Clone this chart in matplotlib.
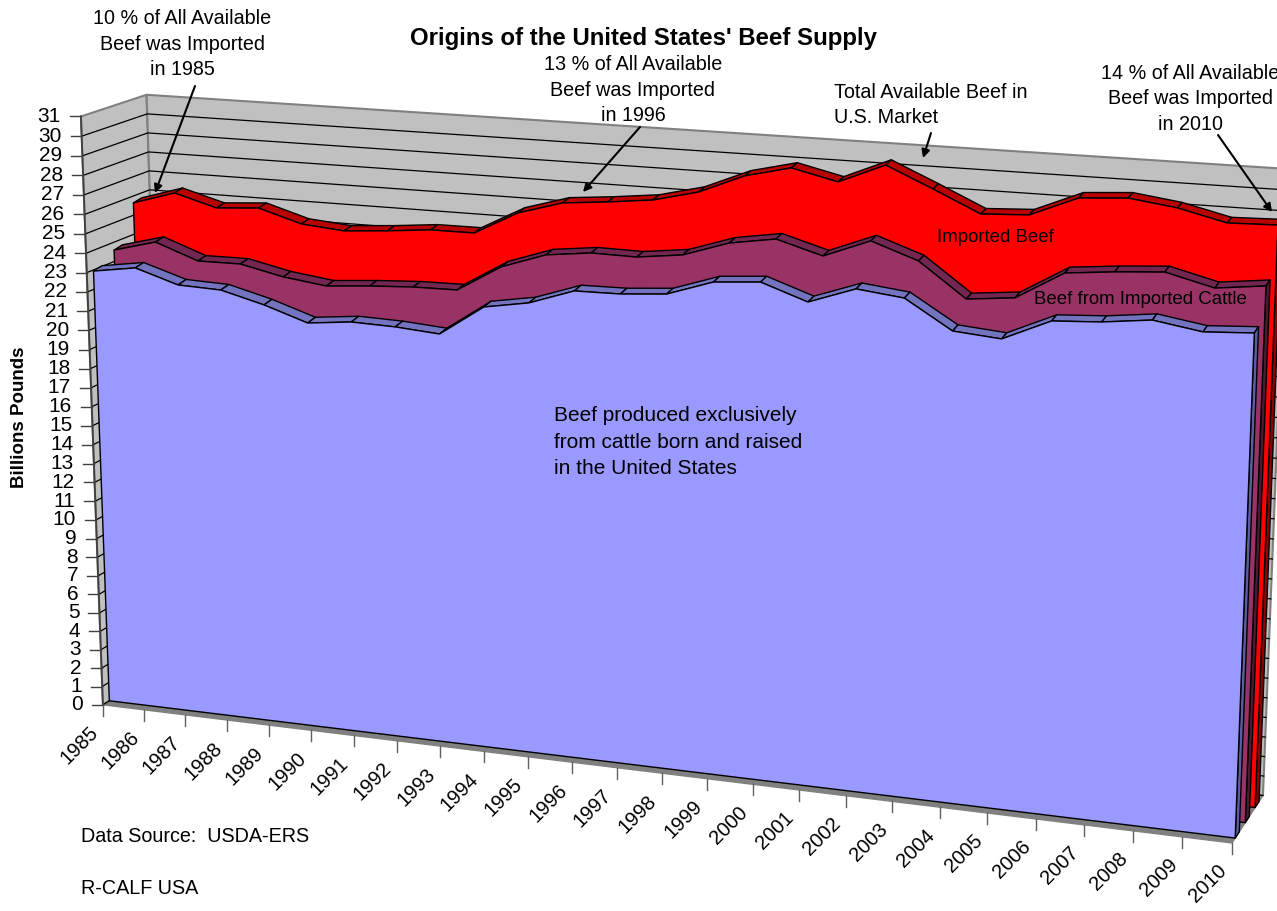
import numpy as np
import matplotlib
matplotlib.use('Agg')
import matplotlib.pyplot as plt
from matplotlib.patches import Polygon

plt.rcParams['font.family'] = ['Liberation Sans', 'DejaVu Sans']

years = list(range(1985, 2011))
y_ticks = list(range(0, 32))
# billions of pounds
total_beef = [25.64, 26.32, 25.7, 25.86, 25.2, 25.01, 25.18, 25.4, 25.41, 26.6, 27.27, 27.48, 27.74,
              28.3, 29.26, 29.81, 29.28, 30.26, 29.25, 28.2, 28.32, 29.3, 29.46, 29.15, 28.6, 28.67]
cattle_beef = [23.59, 24.18, 23.37, 23.39, 22.9, 22.61, 22.79, 22.92, 22.95, 24.3, 25.08, 25.35, 25.32,
               25.6, 26.36, 26.73, 26.07, 26.98, 26.18, 24.51, 24.75, 26.13, 26.36, 26.53, 25.95, 26.23]
usa_beef = [22.94, 23.28, 22.58, 22.5, 21.92, 21.18, 21.42, 21.36, 21.19, 22.74, 23.13, 23.91, 23.94,
            24.12, 24.89, 25.07, 24.28, 25.1, 24.84, 23.44, 23.25, 24.3, 24.44, 24.72, 24.35, 24.49]

# perspective of the box: (year index, value, depth) -> pixel
H = np.array([[40.452086, -0.8066523, 67.7909513, 102.9031524],
              [2.3029265, -19.1185663, -17.9009456, 704.7980768],
              [-0.0038245, -0.0012086, 0.0315014, 1.0]])
THICK = 0.13
LIFT = 0.1  # the top faces rise a bit more than the box depth gives


def proj(u, v, w):
    p = H @ np.array([u, v, w, 1.0])
    return p[0] / p[2], p[1] / p[2]


fig = plt.figure(figsize=(12.77, 9.11), dpi=100)
ax = fig.add_axes([0, 0, 1, 1])
ax.set_xlim(0, 1277)
ax.set_ylim(911, 0)
ax.axis('off')


def quad(pts, fc, ec='black', lw=1.0, z=3):
    ax.add_patch(Polygon([proj(*p) for p in pts], closed=True, fc=fc, ec=ec, lw=lw, zorder=z, joinstyle='round'))


# walls and floor
quad([(0,0,0),(0,31,0),(0,31,1),(0,0,1)], '#C0C0C0', '#808080', 1.5, 1)
quad([(0,0,1),(0,31,1),(25,31,1),(25,0,1)], '#C0C0C0', '#808080', 1.5, 1)
quad([(0,0,0),(25,0,0),(25,0,1),(0,0,1)], '#808080', '#808080', 1, 1)
for v in y_ticks[:-1]:
    xs, ys = zip(proj(0, v, 0), proj(0, v, 1), proj(25, v, 1))
    ax.plot(xs, ys, color='black', lw=0.9, zorder=1.5)
xs, ys = zip(proj(0, 0, 0), proj(0, 31, 0))
ax.plot(xs, ys, color='#404040', lw=1.3, zorder=1.6)

# series, back to front
series = [(total_beef, 0.74, '#FF0000', '#B80000', '#900000'),
          (cattle_beef, 0.42, '#993366', '#732650', '#4D1A33'),
          (usa_beef, 0.10, '#9999FF', '#7373BF', '#5C5CA0')]
for vals, w0, col, top, side in series:
    w1 = w0 + THICK
    for i in range(len(vals) - 1):
        quad([(i,vals[i],w0),(i+1,vals[i+1],w0),(i+1,vals[i+1]+LIFT,w1),(i,vals[i]+LIFT,w1)], top)
    last = len(vals) - 1
    quad([(last,0,w0),(last,vals[last],w0),(last,vals[last]+LIFT,w1),(last,0,w1)], side)
    quad([(0,0,w0)] + [(i,vals[i],w0) for i in range(len(vals))] + [(last,0,w0)], col)

# axis ticks and labels
for v in y_ticks:
    x, y = proj(0, v, 0)
    ax.plot([x-11, x], [y, y], color='#404040', lw=1, zorder=2)
    ax.text(x-20, y, str(v), ha='right', va='center', fontsize=15)
for i, yr in enumerate(years):
    x, y = proj(i, 0, 0)
    ax.plot([x, x], [y, y+11], color='#606060', lw=1, zorder=2)
    ax.text(x-8, y+25, str(yr), ha='right', va='center', rotation=45, rotation_mode='anchor', fontsize=14.5)

ax.text(644, 39, "Origins of the United States' Beef Supply", ha='center', va='center', fontsize=17.3, fontweight='bold')
ax.text(20, 417, 'Billions Pounds', ha='center', va='center', rotation=90, fontsize=13.5, fontweight='bold')
ax.text(182, 44, '10 % of All Available\nBeef was Imported\nin 1985', ha='center', va='center', fontsize=14.2, linespacing=1.46)
ax.text(633, 90, '13 % of All Available\nBeef was Imported\nin 1996', ha='center', va='center', fontsize=14.2, linespacing=1.46)
ax.text(834, 105, 'Total Available Beef in\nU.S. Market', ha='left', va='center', fontsize=14.2, linespacing=1.46)
ax.text(1190, 99, '14 % of All Available\nBeef was Imported\nin 2010', ha='center', va='center', fontsize=14.2, linespacing=1.46)
ax.text(937, 237, 'Imported Beef', ha='left', va='center', fontsize=13.4, zorder=5)
ax.text(1034, 300, 'Beef from Imported Cattle', ha='left', va='center', fontsize=13.4, zorder=5)
ax.text(554, 442, 'Beef produced exclusively\nfrom cattle born and raised\nin the United States', ha='left', va='center', fontsize=15, linespacing=1.53, zorder=5)
ax.text(81, 836, 'Data Source:  USDA-ERS', ha='left', va='center', fontsize=14.2)
ax.text(81, 889, 'R-CALF USA', ha='left', va='center', fontsize=14.2)

for start, tip in [((195,86),(155,193)), ((640,127),(583,192)), ((931,133),(923,158)), ((1218,135),(1272,212))]:
    ax.annotate('', xy=tip, xytext=start, zorder=6,
                arrowprops=dict(arrowstyle='-|>', color='black', lw=1.5, mutation_scale=12, shrinkA=0, shrinkB=0))

fig.savefig('out.png', dpi=100)
